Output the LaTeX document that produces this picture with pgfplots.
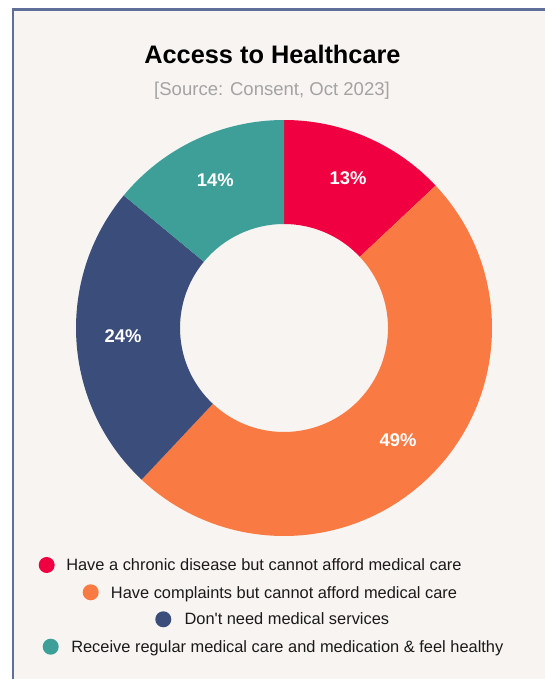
\documentclass[border=0pt]{standalone}
\usepackage{fontspec}
\setmainfont{Liberation Sans}
\usepackage{pgfplots}
\usepackage{pgfplotstable}
\pgfplotsset{compat=1.18}
\definecolor{slice0}{HTML}{F00040}
\definecolor{slice1}{HTML}{FA7A43}
\definecolor{slice2}{HTML}{3B4D7A}
\definecolor{slice3}{HTML}{3D9F98}
\definecolor{bgc}{HTML}{F8F4F1}
\definecolor{bordc}{HTML}{5F6F99}
\definecolor{subc}{HTML}{A3A3A3}
\definecolor{legtext}{HTML}{1A1A1A}
\pgfplotstableread{
idx value
0 13
1 49
2 24
3 14
}\shares
\begin{document}
\begin{tikzpicture}[x=0.75pt,y=0.75pt]
\useasboundingbox (0,0) rectangle (545,679);
\fill[white] (0,0) rectangle (545,679);
\fill[bgc] (13,0) rectangle (545,669.5);
\draw[bordc, line width=1.8pt] (12.8,-5) -- (12.8,669.5) -- (550,669.5);
\node[anchor=base, font=\bfseries\fontsize{19}{23}\selectfont, inner sep=0pt] at (272.5,615.7) {Access to Healthcare};
\node[anchor=base, font=\fontsize{13.9}{17}\selectfont, text=subc, inner sep=0pt] at (272,583) {[Source: Consent, Oct 2023]};
\coordinate (C) at (284,351);
\begin{axis}[at={(C)}, anchor=center, width=312pt, height=312pt, scale only axis, hide axis,
  xmin=-1, xmax=1, ymin=-1, ymax=1, clip=false]
\def\astart{90}
\pgfplotsforeachungrouped \i in {0,...,3}{%
  \pgfplotstablegetelem{\i}{value}\of\shares
  \pgfmathtruncatemacro\v{\pgfplotsretval}
  \pgfmathsetmacro\aend{\astart-3.6*\v}
  \pgfmathsetmacro\amid{(\astart+\aend)/2}
  \pgfmathsetmacro\xs{cos(\astart)}
  \pgfmathsetmacro\ys{sin(\astart)}
  \pgfmathsetmacro\xi{0.5*cos(\aend)}
  \pgfmathsetmacro\yi{0.5*sin(\aend)}
  \pgfmathsetmacro\xm{0.775*cos(\amid)}
  \pgfmathsetmacro\ym{0.775*sin(\amid)+0.01}
  \edef\cmd{\noexpand\fill[slice\i] (axis cs:\xs,\ys) arc[start angle=\astart,end angle=\aend,radius=156pt] -- (axis cs:\xi,\yi) arc[start angle=\aend,end angle=\astart,radius=78pt] -- cycle;
    \noexpand\node[text=white, font=\noexpand\bfseries\noexpand\fontsize{13.8}{16}\noexpand\selectfont] at (axis cs:\xm,\ym) {\v\noexpand\%};}
  \cmd
  \global\let\astart\aend
}
\end{axis}
\fill[slice0] (46.7,114) circle[radius=8];
\fill[slice1] (90.7,86.7) circle[radius=8];
\fill[slice2] (163.3,59.7) circle[radius=8];
\fill[slice3] (50.7,32.3) circle[radius=8];
\begin{scope}[every node/.style={anchor=base west, inner sep=0pt, text=legtext, font=\fontsize{12.3}{15}\selectfont}]
\node at (66,108.3) {Have a chronic disease but cannot afford medical care};
\node at (110.7,80.7) {Have complaints but cannot afford medical care};
\node at (184.3,54) {Don\textquotesingle t need medical services};
\node at (71,26.7) {Receive regular medical care and medication \& feel healthy};
\end{scope}
\end{tikzpicture}
\end{document}
